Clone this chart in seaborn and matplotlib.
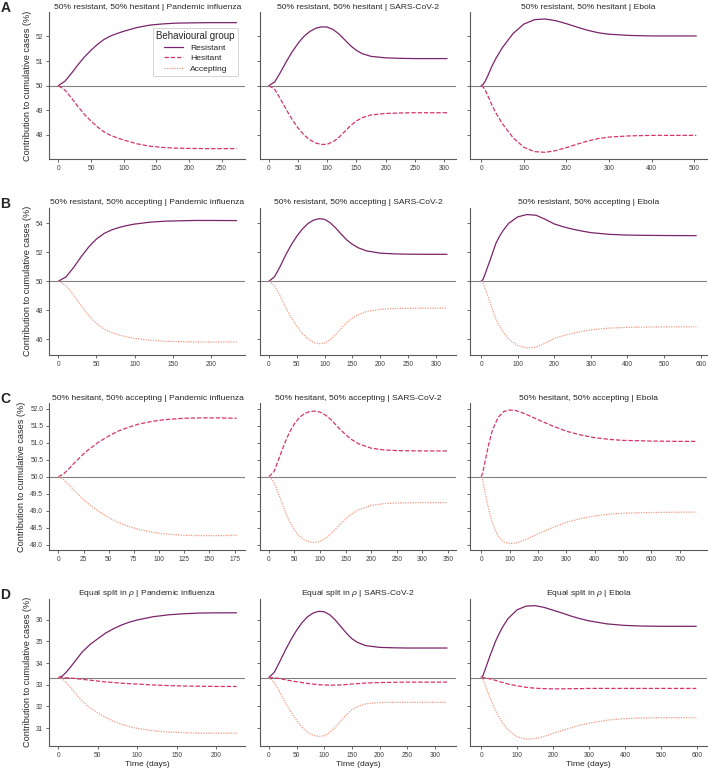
import pandas as pd
import seaborn as sns
import matplotlib.pyplot as plt
from matplotlib.lines import Line2D
from matplotlib.ticker import MultipleLocator

# Row A: 50% resistant, 50% hesitant
days_A_flu = [0, 10, 20, 30, 40, 50, 60, 70, 80, 90, 100, 120, 140, 160, 180, 200, 230, 273]
res_A_flu = [50.0, 50.18, 50.50, 50.85, 51.17, 51.44, 51.68, 51.88, 52.02, 52.12, 52.21, 52.36, 52.46, 52.51, 52.54, 52.55, 52.56, 52.56]
hes_A_flu = [50.0, 49.82, 49.50, 49.15, 48.83, 48.56, 48.32, 48.12, 47.98, 47.88, 47.79, 47.64, 47.54, 47.49, 47.46, 47.45, 47.44, 47.44]

days_A_sars = [0, 10, 20, 30, 40, 50, 60, 70, 80, 90, 100, 110, 120, 130, 140, 150, 160, 175, 200, 225, 250, 275, 305]
res_A_sars = [50.0, 50.15, 50.55, 50.98, 51.38, 51.72, 52.0, 52.2, 52.33, 52.39, 52.38, 52.28, 52.1, 51.86, 51.62, 51.43, 51.30, 51.19, 51.13, 51.11, 51.10, 51.10, 51.10]
hes_A_sars = [50.0, 49.85, 49.45, 49.02, 48.62, 48.28, 48.0, 47.8, 47.67, 47.61, 47.62, 47.72, 47.9, 48.14, 48.38, 48.57, 48.7, 48.81, 48.87, 48.89, 48.9, 48.9, 48.9]

days_A_ebola = [0, 5, 10, 15, 25, 35, 50, 75, 100, 125, 150, 175, 200, 225, 250, 275, 300, 350, 400, 450, 505]
res_A_ebola = [50.0, 50.06, 50.2, 50.38, 50.78, 51.12, 51.55, 52.12, 52.5, 52.68, 52.71, 52.64, 52.52, 52.38, 52.25, 52.15, 52.09, 52.04, 52.02, 52.02, 52.02]
hes_A_ebola = [50.0, 49.94, 49.8, 49.62, 49.22, 48.88, 48.45, 47.88, 47.5, 47.32, 47.29, 47.36, 47.48, 47.62, 47.75, 47.85, 47.91, 47.96, 47.98, 47.98, 47.98]

# Row B: 50% resistant, 50% accepting
days_B_flu = [0, 10, 20, 30, 40, 50, 60, 70, 80, 90, 100, 120, 140, 160, 180, 200, 234]
res_B_flu = [50.0, 50.3, 50.95, 51.7, 52.38, 52.92, 53.3, 53.55, 53.72, 53.85, 53.95, 54.08, 54.15, 54.18, 54.2, 54.2, 54.19]
acc_B_flu = [50.0, 49.7, 49.05, 48.3, 47.62, 47.08, 46.7, 46.45, 46.28, 46.15, 46.05, 45.92, 45.85, 45.82, 45.8, 45.8, 45.81]

days_B_sars = [0, 10, 20, 30, 40, 50, 60, 70, 80, 90, 100, 110, 120, 130, 140, 150, 160, 175, 200, 225, 250, 280, 320]
res_B_sars = [50.0, 50.3, 51.0, 51.8, 52.5, 53.1, 53.6, 53.98, 54.22, 54.32, 54.28, 54.05, 53.68, 53.25, 52.85, 52.55, 52.32, 52.1, 51.94, 51.89, 51.87, 51.86, 51.86]
acc_B_sars = [50.0, 49.7, 49.0, 48.2, 47.5, 46.9, 46.4, 46.02, 45.78, 45.68, 45.72, 45.95, 46.32, 46.75, 47.15, 47.45, 47.68, 47.9, 48.06, 48.11, 48.13, 48.14, 48.14]

days_B_ebola = [0, 5, 10, 15, 20, 25, 40, 50, 60, 75, 100, 125, 150, 175, 200, 225, 250, 275, 300, 350, 400, 450, 500, 588]
res_B_ebola = [50.0, 50.12, 50.45, 50.8, 51.15, 51.5, 52.6, 53.1, 53.5, 54.0, 54.45, 54.61, 54.56, 54.28, 53.96, 53.76, 53.6, 53.47, 53.36, 53.24, 53.19, 53.17, 53.16, 53.15]
acc_B_ebola = [50.0, 49.88, 49.55, 49.2, 48.85, 48.5, 47.4, 46.9, 46.5, 46.0, 45.55, 45.39, 45.44, 45.72, 46.04, 46.24, 46.4, 46.53, 46.64, 46.76, 46.81, 46.83, 46.84, 46.85]

# Row C: 50% hesitant, 50% accepting
days_C_flu = [0, 5, 10, 15, 20, 25, 30, 40, 50, 60, 70, 80, 90, 100, 110, 125, 140, 160, 177]
hes_C_flu = [50.0, 50.08, 50.22, 50.38, 50.53, 50.67, 50.8, 51.02, 51.2, 51.35, 51.46, 51.55, 51.61, 51.66, 51.69, 51.72, 51.73, 51.73, 51.72]
acc_C_flu = [50.0, 49.92, 49.78, 49.62, 49.47, 49.33, 49.2, 48.98, 48.8, 48.65, 48.54, 48.45, 48.39, 48.34, 48.31, 48.28, 48.27, 48.27, 48.28]

days_C_sars = [0, 10, 20, 30, 40, 50, 60, 70, 80, 90, 100, 110, 120, 130, 140, 150, 160, 175, 200, 225, 250, 300, 348]
hes_C_sars = [50.0, 50.15, 50.55, 50.95, 51.3, 51.56, 51.75, 51.86, 51.92, 51.93, 51.9, 51.82, 51.7, 51.54, 51.38, 51.24, 51.11, 50.97, 50.84, 50.79, 50.77, 50.76, 50.76]
acc_C_sars = [50.0, 49.85, 49.45, 49.05, 48.7, 48.44, 48.25, 48.14, 48.08, 48.07, 48.1, 48.18, 48.3, 48.46, 48.62, 48.76, 48.89, 49.03, 49.16, 49.21, 49.23, 49.24, 49.24]

days_C_ebola = [0, 5, 10, 15, 20, 25, 40, 60, 80, 100, 120, 140, 160, 200, 250, 300, 350, 400, 450, 500, 600, 700, 758]
hes_C_ebola = [50.0, 50.1, 50.3, 50.5, 50.7, 50.9, 51.38, 51.75, 51.92, 51.96, 51.95, 51.9, 51.83, 51.68, 51.5, 51.34, 51.23, 51.15, 51.1, 51.07, 51.05, 51.04, 51.04]
acc_C_ebola = [50.0, 49.9, 49.7, 49.5, 49.3, 49.1, 48.62, 48.25, 48.08, 48.04, 48.05, 48.1, 48.17, 48.32, 48.5, 48.66, 48.77, 48.85, 48.9, 48.93, 48.95, 48.96, 48.96]

# Row D: equal split in rho
days_D_flu = [0, 5, 10, 15, 20, 30, 40, 50, 60, 70, 80, 90, 100, 120, 140, 160, 180, 200, 226]
res_D_flu = [33.33, 33.4, 33.58, 33.8, 34.03, 34.5, 34.85, 35.12, 35.38, 35.58, 35.75, 35.88, 35.98, 36.13, 36.22, 36.27, 36.3, 36.31, 36.31]
hes_D_flu = [33.33, 33.33, 33.32, 33.31, 33.29, 33.25, 33.21, 33.17, 33.13, 33.1, 33.07, 33.05, 33.03, 32.99, 32.96, 32.94, 32.93, 32.92, 32.92]
acc_D_flu = [33.34, 33.27, 33.1, 32.89, 32.68, 32.25, 31.94, 31.71, 31.49, 31.32, 31.18, 31.07, 30.99, 30.88, 30.82, 30.79, 30.77, 30.77, 30.77]

days_D_sars = [0, 10, 20, 30, 40, 50, 60, 70, 80, 90, 100, 110, 120, 130, 140, 150, 160, 175, 200, 225, 250, 280, 322]
res_D_sars = [33.33, 33.58, 34.08, 34.6, 35.08, 35.5, 35.86, 36.13, 36.3, 36.38, 36.36, 36.22, 35.98, 35.68, 35.38, 35.12, 34.95, 34.8, 34.72, 34.7, 34.69, 34.69, 34.69]
hes_D_sars = [33.33, 33.32, 33.28, 33.23, 33.18, 33.14, 33.1, 33.06, 33.03, 33.0, 32.99, 32.98, 32.98, 32.99, 33.01, 33.03, 33.05, 33.08, 33.1, 33.11, 33.12, 33.12, 33.12]
acc_D_sars = [33.34, 33.1, 32.64, 32.17, 31.74, 31.36, 31.04, 30.81, 30.67, 30.62, 30.65, 30.8, 31.04, 31.33, 31.61, 31.85, 32.0, 32.12, 32.18, 32.19, 32.19, 32.19, 32.19]

days_D_ebola = [0, 5, 10, 25, 40, 50, 60, 75, 100, 125, 150, 175, 200, 225, 250, 275, 300, 350, 400, 450, 500, 598]
res_D_ebola = [33.33, 33.42, 33.65, 34.35, 35.0, 35.35, 35.67, 36.05, 36.45, 36.62, 36.64, 36.56, 36.43, 36.3, 36.16, 36.04, 35.94, 35.8, 35.73, 35.7, 35.69, 35.69]
hes_D_ebola = [33.33, 33.33, 33.32, 33.27, 33.2, 33.15, 33.1, 33.03, 32.95, 32.88, 32.84, 32.82, 32.81, 32.81, 32.82, 32.82, 32.83, 32.83, 32.83, 32.83, 32.83, 32.83]
acc_D_ebola = [33.34, 33.25, 33.03, 32.38, 31.8, 31.5, 31.23, 30.92, 30.6, 30.5, 30.52, 30.62, 30.76, 30.89, 31.02, 31.14, 31.23, 31.37, 31.44, 31.47, 31.48, 31.48]

row_letters = ['A', 'B', 'C', 'D']
row_splits = ['50% resistant, 50% hesitant', '50% resistant, 50% accepting',
              '50% hesitant, 50% accepting', r'Equal split in $\rho$']
diseases = ['Pandemic influenza', 'SARS-CoV-2', 'Ebola']
baseline_pct = [50, 50, 50, 33.33]
groups = ['Resistant', 'Hesitant', 'Accepting']

panels = [
    [(days_A_flu, {'Resistant': res_A_flu, 'Hesitant': hes_A_flu}),
     (days_A_sars, {'Resistant': res_A_sars, 'Hesitant': hes_A_sars}),
     (days_A_ebola, {'Resistant': res_A_ebola, 'Hesitant': hes_A_ebola})],
    [(days_B_flu, {'Resistant': res_B_flu, 'Accepting': acc_B_flu}),
     (days_B_sars, {'Resistant': res_B_sars, 'Accepting': acc_B_sars}),
     (days_B_ebola, {'Resistant': res_B_ebola, 'Accepting': acc_B_ebola})],
    [(days_C_flu, {'Hesitant': hes_C_flu, 'Accepting': acc_C_flu}),
     (days_C_sars, {'Hesitant': hes_C_sars, 'Accepting': acc_C_sars}),
     (days_C_ebola, {'Hesitant': hes_C_ebola, 'Accepting': acc_C_ebola})],
    [(days_D_flu, {'Resistant': res_D_flu, 'Hesitant': hes_D_flu, 'Accepting': acc_D_flu}),
     (days_D_sars, {'Resistant': res_D_sars, 'Hesitant': hes_D_sars, 'Accepting': acc_D_sars}),
     (days_D_ebola, {'Resistant': res_D_ebola, 'Hesitant': hes_D_ebola, 'Accepting': acc_D_ebola})],
]

colors = {'Resistant': '#7b2469', 'Hesitant': '#d6336e', 'Accepting': '#f39a84'}
dash_map = {'Resistant': '', 'Hesitant': (3.5, 1.5), 'Accepting': (1, 1)}
x_steps = [[50, 50, 100], [50, 50, 100], [25, 50, 100], [50, 50, 100]]
y_steps = [1, 2, 0.5, 1]

sns.set_theme(style='ticks')
plt.rcParams['font.family'] = ['Liberation Sans', 'DejaVu Sans']
plt.rcParams['mathtext.fontset'] = 'custom'
plt.rcParams['mathtext.it'] = 'Liberation Sans:italic'
plt.rcParams['mathtext.rm'] = 'Liberation Sans'

fig, axes = plt.subplots(4, 3, figsize=(7.08, 7.69), dpi=100, sharey='row',
                         gridspec_kw={'width_ratios': [196, 196, 236.6]})
fig.subplots_adjust(left=0.0699, right=0.9986, top=0.984, bottom=0.0303,
                    wspace=0.069, hspace=0.333)

for r in range(4):
    for c in range(3):
        ax = axes[r, c]
        days, series = panels[r][c]
        frames = []
        for g, vals in series.items():
            frames.append(pd.DataFrame({'Time (days)': days, 'pct': vals, 'group': g}))
        df = pd.concat(frames, ignore_index=True)
        order = [g for g in groups if g in series]
        ax.axhline(baseline_pct[r], color='0.5', lw=0.8, zorder=1)
        sns.lineplot(data=df, x='Time (days)', y='pct', hue='group', style='group',
                     hue_order=order, style_order=order, palette=colors,
                     dashes=dash_map, linewidth=0.9, legend=False, ax=ax, zorder=3)
        ax.set_title(f'{row_splits[r]} | {diseases[c]}', fontsize=6.1, pad=2.5, color='0.15')
        ax.xaxis.set_major_locator(MultipleLocator(x_steps[r][c]))
        ax.yaxis.set_major_locator(MultipleLocator(y_steps[r]))
        if r == 2:
            ax.yaxis.set_major_formatter(plt.FormatStrFormatter('%.1f'))
        ax.tick_params(labelsize=4.8, length=2.5, width=0.6, pad=2, colors='0.3', labelcolor='0.25')
        for s in ['left', 'bottom']:
            ax.spines[s].set_linewidth(0.8)
            ax.spines[s].set_color('0.35')
        sns.despine(ax=ax)
        if c == 0:
            ax.set_ylabel('Contribution to cumulative cases (%)', fontsize=6.6, labelpad=3)
        else:
            ax.set_ylabel('')
        if r == 3:
            ax.set_xlabel('Time (days)', fontsize=6.1, labelpad=1.5)
        else:
            ax.set_xlabel('')
    top_px = axes[r, 0].get_position().y1
    fig.text(0.0008, top_px + 11 / 769, row_letters[r], fontsize=10, fontweight='bold', va='top', ha='left')

handles = [Line2D([], [], color=colors[g], lw=0.9,
                  linestyle='-' if g == 'Resistant' else ((0, dash_map[g])))
           for g in groups]
leg = axes[0, 0].legend(handles, groups, title='Behavioural group', loc='upper right',
                        bbox_to_anchor=(0.962, 0.893), borderaxespad=0, fontsize=6.1,
                        title_fontsize=7, handlelength=2.3, labelspacing=0.3,
                        frameon=True, edgecolor='0.8', framealpha=1)
leg.get_frame().set_linewidth(0.6)

fig.savefig('out.png', dpi=100)
